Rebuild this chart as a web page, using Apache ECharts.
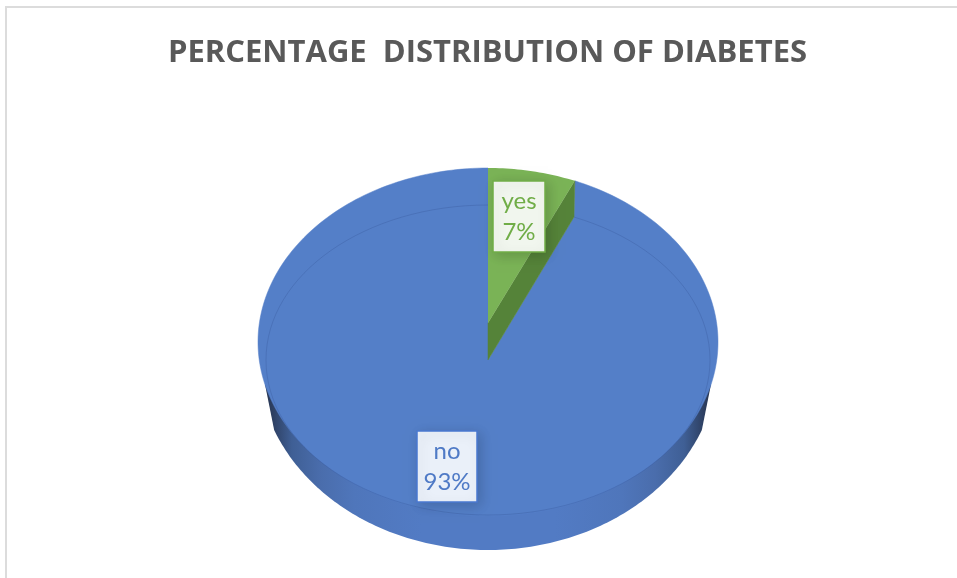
<!DOCTYPE html>
<html>
<head>
<meta charset="utf-8">
<style>html,body{margin:0;padding:0;background:#fff}#c{width:957px;height:578px}</style>
<script src="https://cdn.jsdelivr.net/npm/echarts@6/dist/echarts.min.js"></script>
</head>
<body>
<div id="c"></div>
<script>
var titleText = 'PERCENTAGE  DISTRIBUTION OF DIABETES';
var categories = ['no', 'yes'];
var values = [93, 7];

var chart = echarts.init(document.getElementById('c'), null, {renderer: 'canvas'});
var total = values.reduce(function (a, b) { return a + b; }, 0);
var CX = 488, CY = 342, RX = 230, RY = 174;
var SIDE_CY = 360, SIDE_RY = 190;
var FORESHORTEN = 0.88;
var YES_SHARE = values[categories.indexOf('yes')] / total;
var END = YES_SHARE * Math.PI * 2 * FORESHORTEN;
var DEG = Math.PI / 180;

function pt(t) { return [CX + RX * Math.sin(t), CY - RY * Math.cos(t)]; }
function sidePt(t) { return [CX + RX * Math.sin(t), SIDE_CY - SIDE_RY * Math.cos(t)]; }
function arc(fn, a, b, n) {
  var out = [];
  for (var i = 0; i <= n; i++) out.push(fn(a + (b - a) * i / n));
  return out;
}
var PALETTE = {
  no: {fill: '#547fc8', text: '#4f7ac6', box: '#eaf0f9', edge: '#4a78d0'},
  yes: {fill: '#7ab356', text: '#70ad47', box: '#f1f6ee', edge: '#70ad47'}
};
var LABEL = {
  no: {x: 417, y: 431, w: 60, h: 71},
  yes: {x: 493, y: 181, w: 52, h: 71}
};

function labelEls(name, value) {
  var p = PALETTE[name], l = LABEL[name];
  return [{
    type: 'rect', z2: 10,
    shape: {x: l.x, y: l.y, width: l.w, height: l.h},
    style: {fill: p.box, stroke: p.edge, lineWidth: 1.5,
      shadowBlur: 12, shadowOffsetX: 3, shadowOffsetY: 3, shadowColor: 'rgba(0,0,0,0.16)'}
  }, {
    type: 'text', z2: 11,
    style: {
      x: l.x + l.w / 2, y: l.y + l.h / 2,
      text: name + '\n' + Math.round(value / total * 100) + '%',
      fill: p.text, font: '24px Lato', lineHeight: 31,
      align: 'center', verticalAlign: 'middle'
    }
  }];
}

function renderItem(params, api) {
  var name = categories[params.dataIndex];
  var value = api.value(0);
  var children = [];
  if (name === 'no') {
    var outline = [pt(104.3 * DEG)]
      .concat(arc(sidePt, 111.6 * DEG, 248.4 * DEG, 140))
      .concat([pt(255.7 * DEG)]);
    children.push({
      type: 'polygon',
      shape: {points: outline},
      style: {fill: new echarts.graphic.LinearGradient(0, 0, 1, 0, [
        {offset: 0, color: '#26344f'}, {offset: 0.02, color: '#2f4266'},
        {offset: 0.06, color: '#3f5f95'}, {offset: 0.125, color: '#4a6dac'},
        {offset: 0.2, color: '#4f76bb'}, {offset: 0.35, color: '#527bc4'},
        {offset: 0.65, color: '#527bc4'}, {offset: 0.8, color: '#4f76bb'},
        {offset: 0.875, color: '#4a6dac'}, {offset: 0.94, color: '#3f5f95'},
        {offset: 0.98, color: '#2f4266'}, {offset: 1, color: '#26344f'}
      ])}
    });
    var pts = arc(pt, END, Math.PI * 2, 260);
    pts.push([CX, CY + 18]);
    pts.push([CX + 86, 217]);
    children.push({
      type: 'polygon', shape: {points: pts},
      style: {fill: PALETTE.no.fill, stroke: PALETTE.no.fill, lineWidth: 0.5}
    });
    children.push({
      type: 'ellipse', shape: {cx: CX, cy: 360, rx: 222, ry: 155},
      style: {fill: 'none', stroke: 'rgba(52,84,150,0.4)', lineWidth: 0.8}
    });
  } else {
    var end = pt(END);
    children.push({
      type: 'polygon', z2: 2,
      shape: {points: [[CX, CY + 18], [CX + 86, 217], end, [CX, CY - 19]]},
      style: {fill: '#558339', stroke: '#558339', lineWidth: 0.5}
    });
    var face = arc(pt, 0, END, 24);
    face.push([CX, CY - 19]);
    children.push({
      type: 'polygon', z2: 3, shape: {points: face},
      style: {fill: PALETTE.yes.fill}
    });
  }
  children = children.concat(labelEls(name, value));
  return {type: 'group', children: children};
}

chart.setOption({
  animation: false,
  backgroundColor: '#ffffff',
  title: {
    text: titleText, left: 482.5, top: 33, textAlign: 'center',
    textStyle: {color: '#595959', fontFamily: 'Open Sans', fontWeight: 'bold', fontSize: 31}
  },
  graphic: [
    {type: 'line', shape: {x1: 6, y1: 7, x2: 957, y2: 7}, style: {stroke: '#dcdcdc', lineWidth: 2}},
    {type: 'line', shape: {x1: 6, y1: 6, x2: 6, y2: 578}, style: {stroke: '#dcdcdc', lineWidth: 2}}
  ],
  series: [{
    type: 'custom',
    coordinateSystem: 'none',
    renderItem: renderItem,
    data: values.map(function (v, i) { return {name: categories[i], value: [v]}; })
  }]
});
</script>
</body>
</html>
